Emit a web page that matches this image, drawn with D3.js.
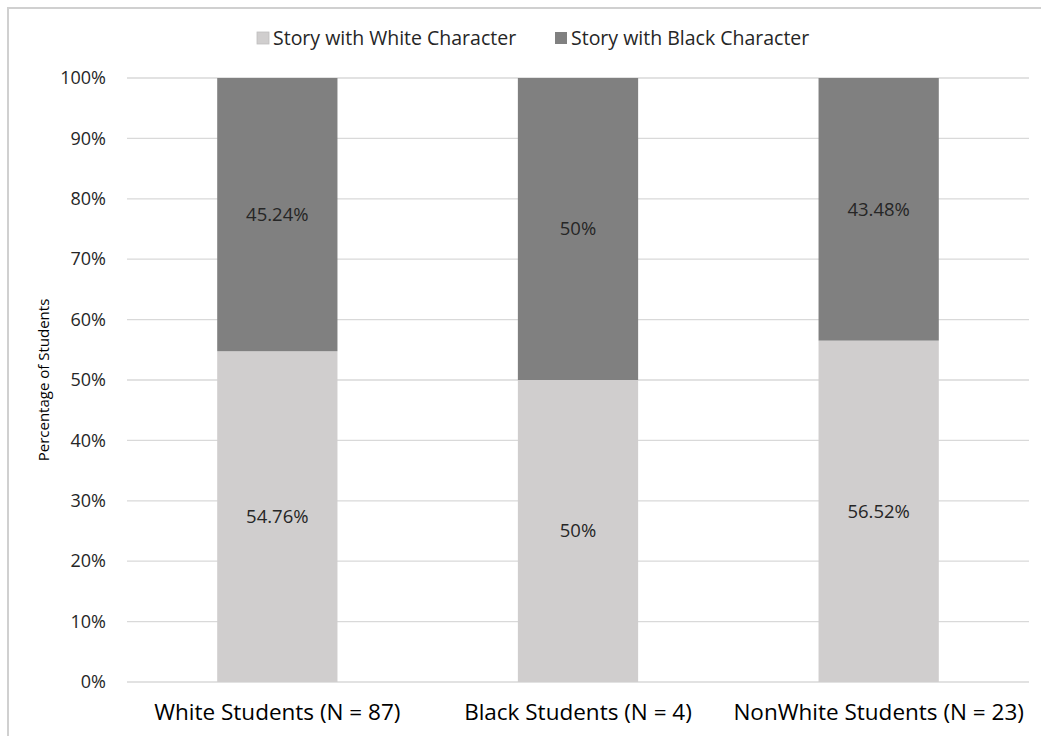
<!DOCTYPE html>
<html><head><meta charset="utf-8">
<script src="https://cdn.jsdelivr.net/npm/d3@7"></script>
<style>body{margin:0;background:#fff;} svg{display:block;}</style>
</head><body>
<svg id="chart" width="1041" height="736"></svg>
<script>
const categories = ["White Students (N = 87)", "Black Students (N = 4)", "NonWhite Students (N = 23)"];
const seriesNames = ["Story with White Character", "Story with Black Character"];
const whiteChar = [54.76, 50, 56.52];
const blackChar = [45.24, 50, 43.48];
const whiteLabels = ["54.76%", "50%", "56.52%"];
const blackLabels = ["45.24%", "50%", "43.48%"];
const yTicks = [0,10,20,30,40,50,60,70,80,90,100];
const colors = ["#d0cece", "#808080"];

const font = "'Open Sans', sans-serif";
const svg = d3.select("#chart");
const W = 1041, H = 736;
const m = {left:127, right:12, top:78, bottom:54};

// outer border
svg.append("rect").attr("x",8).attr("y",8).attr("width",W+10).attr("height",H+10)
  .attr("fill","none").attr("stroke","#d0d0d0").attr("stroke-width",2);

const x = d3.scaleBand().domain(categories).range([m.left, W - m.right]).paddingInner(0.6).paddingOuter(0.3);
const y = d3.scaleLinear().domain([0,100]).range([H - m.bottom, m.top]);

// gridlines
svg.append("g").selectAll("line").data(yTicks).join("line")
  .attr("x1", m.left).attr("x2", W - m.right)
  .attr("y1", d=>y(d)).attr("y2", d=>y(d))
  .attr("stroke","#d9d9d9").attr("stroke-width",1.3);

// y axis
const yAxis = d3.axisLeft(y).tickValues(yTicks).tickFormat(d=>d+"%").tickSize(0).tickPadding(21);
const yg = svg.append("g").attr("transform",`translate(${m.left},0)`).call(yAxis);
yg.select(".domain").remove();
yg.selectAll("text").attr("font-family",font).attr("font-size",18).attr("fill","#262626");

// x axis
const xAxis = d3.axisBottom(x).tickSize(0).tickPadding(22);
const xg = svg.append("g").attr("transform",`translate(0,${H - m.bottom})`).call(xAxis);
xg.select(".domain").remove();
xg.selectAll("text").attr("font-family",font).attr("font-size",22.5).attr("fill","#000").attr("dy","0.71em");

// stacked bars
const rows = categories.map((c,i)=>({cat:c, w:whiteChar[i], b:blackChar[i], wl:whiteLabels[i], bl:blackLabels[i]}));
const g = svg.append("g");
g.selectAll("rect.w").data(rows).join("rect").attr("class","w")
  .attr("x", d=>x(d.cat)).attr("width", x.bandwidth())
  .attr("y", d=>y(d.w)).attr("height", d=>y(0)-y(d.w)).attr("fill", colors[0]);
g.selectAll("rect.b").data(rows).join("rect").attr("class","b")
  .attr("x", d=>x(d.cat)).attr("width", x.bandwidth())
  .attr("y", d=>y(d.w+d.b)).attr("height", d=>y(d.w)-y(d.w+d.b)).attr("fill", colors[1]);

g.selectAll("text.wl").data(rows).join("text").attr("class","wl")
  .attr("x", d=>x(d.cat)+x.bandwidth()/2).attr("y", d=>y(d.w/2))
  .attr("dy","0.35em").attr("text-anchor","middle")
  .attr("font-family",font).attr("font-size",18.5).attr("fill","#262626").text(d=>d.wl);
g.selectAll("text.bl").data(rows).join("text").attr("class","bl")
  .attr("x", d=>x(d.cat)+x.bandwidth()/2).attr("y", d=>y(d.w + d.b/2))
  .attr("dy","0.35em").attr("text-anchor","middle")
  .attr("font-family",font).attr("font-size",18.5).attr("fill","#262626").text(d=>d.bl);

// y label
svg.append("text").attr("transform",`translate(44,${(y(0)+y(100))/2}) rotate(-90)`)
  .attr("text-anchor","middle").attr("dy","0.35em").attr("font-family",font).attr("font-size",15).attr("fill","#000")
  .text("Percentage of Students");

// legend
const legX = [257, 555];
const lg = svg.append("g");
seriesNames.forEach((s,i)=>{
  lg.append("rect").attr("x",legX[i]).attr("y",32).attr("width",12).attr("height",12)
    .attr("fill",colors[i]).attr("stroke", i===0?"#bfbfbf":"none").attr("stroke-width",0.8);
  lg.append("text").attr("x",legX[i]+16).attr("y",38).attr("dy","0.35em")
    .attr("font-family",font).attr("font-size",19.5).attr("fill","#262626").text(s);
});
</script>
</body></html>
